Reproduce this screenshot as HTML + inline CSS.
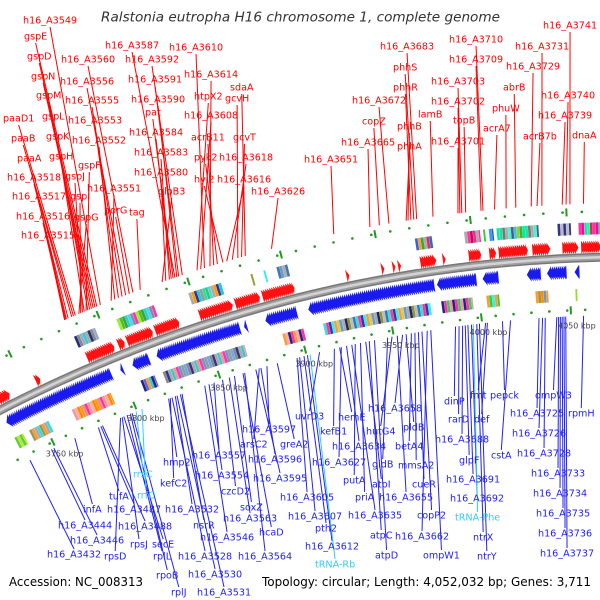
<!DOCTYPE html>
<html><head><meta charset="utf-8"><style>
html,body{margin:0;padding:0;background:#fff;}
svg{display:block;font-family:"DejaVu Sans","Liberation Sans",sans-serif;}
</style></head><body>
<svg id="map" width="600" height="600" viewBox="0 0 600 600" xmlns="http://www.w3.org/2000/svg">
<rect width="600" height="600" fill="#fff"/>
<g id="lines"></g><g id="tracks"></g><g id="ring"></g><g id="ticks"></g><g id="labels"></g>
<text x="101" y="18" dominant-baseline="central" font-size="13" font-style="italic" fill="#333" textLength="399" lengthAdjust="spacingAndGlyphs">Ralstonia eutropha H16 chromosome 1, complete genome</text>
<text x="9" y="582" dominant-baseline="central" font-size="12" fill="#000" textLength="134" lengthAdjust="spacingAndGlyphs">Accession: NC_008313</text>
<text x="262" y="582" dominant-baseline="central" font-size="12" fill="#000" textLength="329" lengthAdjust="spacingAndGlyphs">Topology: circular; Length: 4,052,032 bp; Genes: 3,711</text>
</svg>
<script>
const redNames = ["h16_A3515","h16_A3516","h16_A3517","h16_A3518","paaA","paaB","paaD1","gspG","gspI","gspJ","gspH","gspF","gspK","gspL","gspM","gspN","gspD","gspE","h16_A3549","h16_A3551","h16_A3552","h16_A3553","h16_A3555","h16_A3556","porG","h16_A3560","tag","gloB3","h16_A3580","h16_A3583","h16_A3584","pat","h16_A3587","h16_A3590","h16_A3591","h16_A3592","htpX2","h16_A3608","h16_A3610","h16_A3614","acrB11","pyk2","hyi2","h16_A3616","h16_A3618","gcvH","gcvT","sdaA","h16_A3626","h16_A3651","h16_A3665","copZ","h16_A3672","phhA","phhB","phhR","phhS","h16_A3683","lamB","h16_A3701","h16_A3702","h16_A3703","topB","h16_A3709","h16_A3710","acrA7","phuW","abrB","h16_A3729","acrB7b","h16_A3731","h16_A3739","h16_A3740","h16_A3741","dnaA"];
const redPos = [3780,3780.5,3781,3782,3784,3785,3786,3788,3789,3790,3791,3792,3793,3794,3795,3796,3797,3798,3800,3806,3808,3810,3812,3814,3816,3818,3822,3834,3836,3838,3839,3840,3841,3842,3843,3845,3853,3855,3857,3860,3862,3864,3867,3869,3872,3875,3877,3879,3893,3926,3945,3950,3955,3964,3965,3966.5,3968,3969.5,3978,3991,3992,3993,3995,4003,4004,4010,4016,4021,4029,4032,4034.5,4045,4047,4049,4056];
const redLabelX = [21,16,12,7,17,11,3,74,70,65,49,78,46,42,36,31,27,24,23,87,72,68,65,60,104,61,129,158,134,134,129,145,105,131,128,125,194,184,169,184,191,194,194,217,219,225,233,230,251,304,341,362,352,397,397,393,393,380,418,431,431,431,453,449,449,483,492,503,506,523,515,538,541,543,572];
const redLabelY = [236,217,197,178,159,139,119,218,197,177,157,166,137,117,96,77,57,37,21,189,141,121,101,82,211,60,213,192,173,153,133,113,46,100,80,60,97,116,48,75,138,158,180,180,158,99,138,88,192,160,143,122,101,147,127,88,68,47,115,142,102,82,121,60,40,129,109,88,67,137,47,116,96,26,136];

const blueNames = ["h16_A3432","h16_A3444","h16_A3446","infA","tufA","h16_A3487","h16_A3488","rpsD","rpsJ","secE","rplL","rpoB","rplJ","rrsC","rrfC","hmp2","kefC2","h16_A3528","h16_A3532","h16_A3530","h16_A3531","nsrR","h16_A3546","h16_A3554","h16_A3557","czcD2","h16_A3563","soxZ","hcaD","h16_A3564","h16_A3595","arsC2","h16_A3596","h16_A3597","greA2","h16_A3605","h16_A3607","pth2","h16_A3612","tRNA-Rb","uvrD3","kefB1","hemE","h16_A3627","h16_A3634","h16_A3635","putA","priA","atpI","atpC","atpD","gidB","hutG4","h16_A3655","h16_A3658","pldB","betA4","mmsA2","cueR","copP2","h16_A3662","ompW1","dinP","rarD","h16_A3688","glpF","h16_A3691","h16_A3692","tRNA-Phe","ntrX","ntrY","fmt","def","pepck","cstA","h16_A3725","h16_A3726","h16_A3728","ompW3","h16_A3733","h16_A3734","h16_A3735","h16_A3736","h16_A3737","rpmH"];
const bluePos = [3731,3744.5,3746,3759,3773.5,3775,3776,3787,3788,3789,3791,3793,3794,3796.5,3800,3816,3817,3818,3820,3821,3823,3824,3837.5,3840,3843,3848,3852,3855,3860,3861,3867.5,3869.5,3870.5,3874,3880,3891.5,3893,3895.5,3897.5,3899,3904.5,3913,3916,3917,3920,3923,3925,3928,3931,3933,3936,3943.5,3946,3949,3952,3954,3957,3959,3961,3963,3966,3968,3982,3984,3986,3987.5,3989,3991,3992,3994,3995.5,3999,4000,4008.5,4013,4029,4031,4032.5,4039,4040,4041,4042,4043,4044,4054];
const blueLabelX = [47,58,70,83,109,107,118,104,130,152,153,156,171,133,137,163,160,178,165,188,197,193,200,195,192,221,223,240,259,238,253,240,248,242,280,280,288,315,305,315,295,320,338,312,332,348,343,355,372,370,375,372,366,379,368,403,395,398,412,417,395,423,444,448,435,459,446,450,455,473,477,470,474,490,491,510,512,517,535,531,533,536,538,540,568];
const blueLabelY = [555,526,541,510,497,510,527,557,545,545,557,576,593,475,496,463,484,557,510,575,593,526,538,476,456,492,519,508,533,557,479,445,460,430,445,498,517,529,547,565,417,432,418,463,447,516,481,498,485,536,556,465,432,498,409,428,447,466,485,516,537,556,402,420,440,461,480,499,518,538,557,396,420,396,456,414,434,454,396,474,494,514,534,554,414];
const cyanGenes = ["rrsC","rrfC","tRNA-Rb","tRNA-Phe"];

const fwdStart = [3730,3753,3783,3801,3806,3822,3847,3867,3882,3928,3947,3953,3956,3968,3980,3994,4005,4010,4028,4044,4054];
const fwdEnd   = [3737,3755,3798,3804,3820,3835,3865,3880,3899,3929,3948,3954,3957,3976,3981,4000,4008,4025,4037,4052,4064];
const revStart = [3729,3797,3804,3818,3868,3880,3904,3975,4000,4024,4035,4050];
const revEnd   = [3791,3798,3813,3865,3869,3897,3973,3996,4008,4031,4045,4052];

const outBoxStart = [3781,3805,3845,3879,3886,3893,3967,3993,4003,4006,4010,4042,4053];
const outBoxEnd   = [3793,3826,3863,3880,3887,3899,3976,4001,4004,4008,4032,4049,4064];
const outBoxColors = [["#223377","#888888","#99aacc","#33cccc","#aaaaaa"],["#99ee33","#55bb22","#33aa33","#33cccc","#44dddd","#8888bb","#ff33aa"],["#aaaaaa","#ff9900","#333399","#22cccc","#999999","#33dd99","#22cc88","#66cccc"],["#999933"],["#33eeee"],["#4477aa","#6699cc","#aaaaaa"],["#3366cc","#ff9933","#33aa33","#aaaaaa","#cc3366"],["#aaaaaa","#ff3399","#cc0066","#dd3388"],["#33cc33"],["#3399ff","#2255cc"],["#00ee99","#22ddaa","#777777","#aaaaaa","#33ffcc","#555599","#33cccc","#99cc33","#44aa44"],["#333388","#bbbbbb"],["#ff3399","#ff00aa","#22ddaa","#33ee99","#dd2266"]];

const inBoxStart = [3729,3738,3764,3805,3818,3887,3910,3976,4001,4028,4050];
const inBoxEnd   = [3734,3750,3787,3813,3865,3899,3970,3993,4008,4035,4051];
const inBoxColors = [["#66cc33","#aaee33"],["#999955","#ff9933","#aaaaaa","#33dddd"],["#ee9999","#ffaaaa","#ff8800","#ff9911","#ee8888","#ff3399"],["#222288","#6666cc","#ff9933","#33cccc"],["#888888","#333388","#aaaaaa","#33cccc","#ee9999","#ff33aa","#6699cc","#999999","#66aaee"],["#ff9933","#ffaaaa","#222288","#ff3399"],["#33dddd","#ff3399","#3333aa","#33eeee","#ff9933","#cccc66","#6699cc","#aaaaaa","#222266","#889933","#bbbbbb","#3377bb"],["#222288","#ff3399","#33cc66","#ee9999"],["#ff9933","#33cc33","#33eeee"],["#ff9933","#999933","#ff8800","#6699cc"],["#99dd33"]];

const tickKbp = [3750,3800,3850,3900,3950,4000,4050];
const tickLabels = ["3750 kbp","3800 kbp","3850 kbp","3900 kbp","3950 kbp","4000 kbp","4050 kbp"];

const CX=630, CY=1628, R=1371, K0=4080, RAD=0.00136;
function ang(k){return (k-K0)*RAD;}
function pt(k,r){const t=ang(k);return [CX+r*Math.sin(t), CY-r*Math.cos(t)];}
const NS="http://www.w3.org/2000/svg";
function mk(tag,parent){const e=document.createElementNS(NS,tag);parent.appendChild(e);return e;}
const gL=document.getElementById('lines'), gT=document.getElementById('tracks'), gR=document.getElementById('ring'), gK=document.getElementById('ticks'), gLab=document.getElementById('labels');

function drawLabels(names,pos,lx,ly,isRed){
  for(let i=0;i<names.length;i++){
    const cyan=cyanGenes.includes(names[i]);
    const col=isRed?"#ff0000":(cyan?"#33ccff":"#2222ee");
    const t=mk('text',gLab);
    
    
    t.setAttribute('x',lx[i]);t.setAttribute('y',ly[i]);
    t.setAttribute('dominant-baseline','central');
    t.setAttribute('font-size','9.6');t.setAttribute('fill',col);
    t.textContent=names[i];
    const w=t.getComputedTextLength();
    const cx=lx[i]+w/2;
    const p=pt(pos[i], isRed?R+54:R-58);
    const l=mk('line',gL);
    
    
    l.setAttribute('x1',p[0]);l.setAttribute('y1',p[1]);
    l.setAttribute('x2',cx);l.setAttribute('y2',isRed?ly[i]+6:ly[i]-6);
    l.setAttribute('stroke',col);l.setAttribute('stroke-width','1');
  }
}
drawLabels(redNames,redPos,redLabelX,redLabelY,true);
drawLabels(blueNames,bluePos,blueLabelX,blueLabelY,false);

for(let k=3725;k<=4065;k+=10){
  [R+46,R-52].forEach(r=>{
    const p=pt(k,r);const c=mk('circle',gT);
    
    
    c.setAttribute('cx',p[0]);c.setAttribute('cy',p[1]);c.setAttribute('r','1.3');c.setAttribute('fill','#229922');
  });
}
tickKbp.forEach(k=>{
  [[R+42,R+50],[R-48,R-56]].forEach(rr=>{
    const a=pt(k-3,rr[0]),b=pt(k-3,rr[1]);const l=mk('line',gT);
    
    
    l.setAttribute('x1',a[0]);l.setAttribute('y1',a[1]);l.setAttribute('x2',b[0]);l.setAttribute('y2',b[1]);
    l.setAttribute('stroke','#229922');l.setAttribute('stroke-width','2');
  });
});

function arrows(starts,ends,fwd){
  for(let s=0;s<starts.length;s++){
    for(let k=starts[s];k<=ends[s]-0.5;k+=1.1){
      const L=Math.min(2.4,ends[s]-k+0.6);
      const r1=fwd?R+4:R-7, r2=fwd?R+17:R-21, rm=(r1+r2)/2;
      let a,b,c;
      if(fwd){a=pt(k,r1);b=pt(k,r2);c=pt(k+L,rm);}
      else{a=pt(k+L,r1);b=pt(k+L,r2);c=pt(k,rm);}
      const p=mk('polygon',gT);
      
      
      p.setAttribute('points',[a,b,c].map(q=>q[0].toFixed(1)+','+q[1].toFixed(1)).join(' '));
      p.setAttribute('fill',fwd?'#ff1111':'#1a1aee');
    }
  }
}
arrows(fwdStart,fwdEnd,true);
arrows(revStart,revEnd,false);

function boxes(starts,ends,colors,r1,r2){
  for(let s=0;s<starts.length;s++){
    let i=0;
    for(let k=starts[s];k<ends[s]||i==0;k+=1.5){
      const k2=Math.min(k+1.4,Math.max(ends[s],k+0.8));
      const a=pt(k,r1),b=pt(k,r2),c=pt(k2,r2),d=pt(k2,r1);
      const p=mk('polygon',gT);
      
      
      p.setAttribute('points',[a,b,c,d].map(q=>q[0].toFixed(1)+','+q[1].toFixed(1)).join(' '));
      p.setAttribute('fill',colors[s][i%colors[s].length]);
      i++;
    }
  }
}
boxes(outBoxStart,outBoxEnd,outBoxColors,R+23,R+35);
boxes(inBoxStart,inBoxEnd,inBoxColors,R-31,R-43);

function arcPath(r){let d='';for(let k=3720;k<=4070;k+=2){const p=pt(k,r);d+=(d?'L':'M')+p[0].toFixed(1)+','+p[1].toFixed(1);}return d;}
[[9,'#777777'],[6,'#a0a0a0'],[2.5,'#d4d4d4']].forEach(s=>{
  const p=mk('path',gR);
  
  
  p.setAttribute('d',arcPath(R));p.setAttribute('fill','none');p.setAttribute('stroke',s[1]);p.setAttribute('stroke-width',s[0]);
});

tickKbp.forEach((k,i)=>{
  const p=pt(k,R-68);const t=mk('text',gK);
  
  
  t.setAttribute('x',p[0]);t.setAttribute('y',p[1]);t.setAttribute('text-anchor','middle');
  t.setAttribute('dominant-baseline','central');t.setAttribute('font-size','8');t.setAttribute('fill','#444');
  t.textContent=tickLabels[i];
});
</script>
</body></html>
